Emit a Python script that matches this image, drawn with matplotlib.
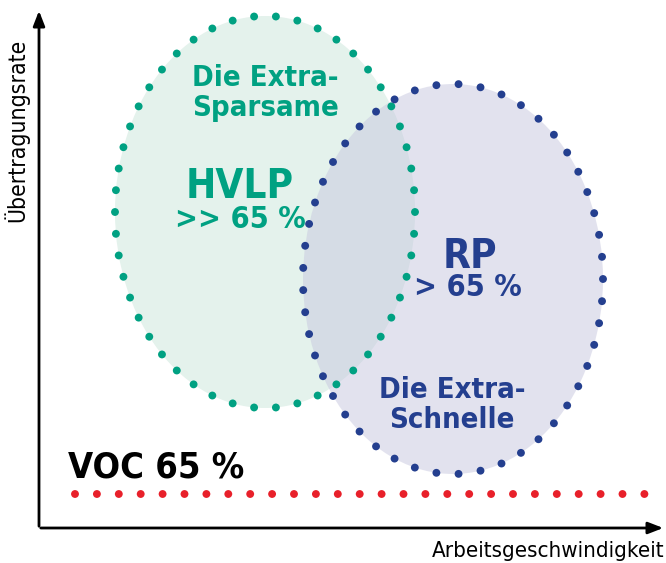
import numpy as np
import matplotlib.pyplot as plt
from matplotlib.patches import Ellipse

# Diagram data (pixel space of the original picture, y pointing down)
groups = ['HVLP', 'RP']
centers = [(265, 212), (453, 279)]
sizes = [(300, 392), (300, 390)]
fill_colors = ['#e4f2ec', '#c7c7df']
fill_alpha = [1.0, 0.5]
dot_colors = ['#00a182', '#243f8f']
dot_counts = [50, 49]

titles = ['Die Extra-\nSparsame', 'Die Extra-\nSchnelle']
title_pos = [(265, 93), (452, 405)]
rates = ['>> 65 %', '> 65 %']
name_pos = [(240, 187), (470, 257)]
rate_pos = [(240, 219), (468, 288)]

voc_label = 'VOC 65 %'
voc_level = 494
x_label = 'Arbeitsgeschwindigkeit'
y_label = 'Übertragungsrate'

FONT = ['DejaVu Sans']


def ellipse_dots(center, size, n):
    # points evenly spaced by arc length along the ellipse
    t = np.linspace(0, 2 * np.pi, 4000)
    x = center[0] + size[0] / 2 * np.cos(t)
    y = center[1] + size[1] / 2 * np.sin(t)
    seg = np.hypot(np.diff(x), np.diff(y))
    s = np.concatenate([[0], np.cumsum(seg)])
    targets = np.linspace(0, s[-1], n, endpoint=False)
    return np.interp(targets, s, x), np.interp(targets, s, y)


fig = plt.figure(figsize=(6.66, 5.63), dpi=100)
ax = fig.add_axes([0, 0, 1, 1])
ax.set_xlim(0, 666)
ax.set_ylim(563, 0)
ax.axis('off')

# filled ellipses
for c, s, fc, a in zip(centers, sizes, fill_colors, fill_alpha):
    ax.add_patch(Ellipse(c, s[0], s[1], facecolor=fc, alpha=a, edgecolor='none', zorder=1))

# dotted outlines
for c, s, dc, n in zip(centers, sizes, dot_colors, dot_counts):
    xs, ys = ellipse_dots(c, s, n)
    ax.scatter(xs, ys, s=32, color=dc, edgecolor='none', zorder=3)

# VOC line
vx = np.arange(75, 666, 21.9)
ax.scatter(vx, np.full_like(vx, voc_level), s=32, color='#e8202a', edgecolor='none', zorder=3)
ax.text(68, 468, voc_label, fontsize=26, fontweight='bold', color='black',
        ha='left', va='center', family=FONT, stretch='condensed')

# labels inside ellipses
for g, t, r, tp, npos, rp, dc in zip(groups, titles, rates, title_pos, name_pos, rate_pos, dot_colors):
    ax.text(tp[0], tp[1], t, fontsize=21, fontweight='bold', color=dc,
            ha='center', va='center', linespacing=1.05, family=FONT, stretch='condensed')
    ax.text(npos[0], npos[1], g, fontsize=29, fontweight='bold', color=dc,
            ha='center', va='center', family=FONT, stretch='condensed')
    ax.text(rp[0], rp[1], r, fontsize=22, fontweight='bold', color=dc,
            ha='center', va='center', family=FONT, stretch='condensed')

# axes with arrows
ax.annotate('', xy=(39, 8), xytext=(39, 529),
            arrowprops=dict(arrowstyle='-|>,head_length=0.9,head_width=0.35', color='black', lw=2))
ax.annotate('', xy=(666, 528), xytext=(38, 528),
            arrowprops=dict(arrowstyle='-|>,head_length=0.9,head_width=0.35', color='black', lw=2))

ax.text(664, 551, x_label, fontsize=16, ha='right', va='center', family=FONT, stretch='condensed')
ax.text(16, 130, y_label, fontsize=16.5, rotation=90, ha='center', va='center', family=FONT, stretch='condensed')

fig.savefig('out.png', dpi=100)
